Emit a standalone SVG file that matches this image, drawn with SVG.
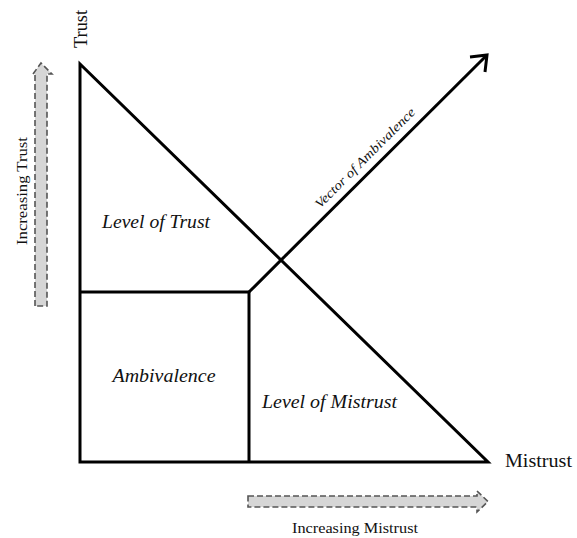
<svg xmlns="http://www.w3.org/2000/svg" width="577" height="538" viewBox="0 0 577 538">
<style>
.ln{fill:none;stroke:#000;stroke-width:3;stroke-linejoin:miter}
.lbl{font-family:"Liberation Serif",serif;font-style:italic;font-size:18px;fill:#111;text-anchor:middle}
.ax{font-family:"Liberation Serif",serif;font-size:18px;fill:#111}
.small{font-family:"Liberation Serif",serif;font-size:14px;fill:#111;text-anchor:middle}
.dash{fill:#d6d6d6;stroke:#555;stroke-width:1.6;stroke-dasharray:6 3}
</style>
<rect width="577" height="538" fill="#fff"/>
<g id="triangle">
<polygon class="ln" points="80,64 80,462 488,462"/>
</g>
<g id="ambivalence-box">
<polyline class="ln" points="80,292 249,292 249,462"/>
</g>
<g id="connectors">
<line class="ln" x1="249" y1="292" x2="486" y2="56"/>
<polyline class="ln" points="470,57 487,55 485,72"/>
</g>
<g id="labels">
<text class="lbl" x="156" y="228" textLength="108" lengthAdjust="spacingAndGlyphs">Level of Trust</text>
<text class="lbl" x="164" y="382" textLength="103" lengthAdjust="spacingAndGlyphs">Ambivalence</text>
<text class="lbl" x="329.5" y="408" textLength="135" lengthAdjust="spacingAndGlyphs">Level of Mistrust</text>
<text class="lbl" style="font-size:13px" transform="translate(368,161) rotate(-45)" textLength="136" lengthAdjust="spacingAndGlyphs">Vector of Ambivalence</text>
<text class="ax" x="505" y="467" textLength="67" lengthAdjust="spacingAndGlyphs">Mistrust</text>
<text class="ax" text-anchor="middle" transform="translate(87,29) rotate(-90)" textLength="38" lengthAdjust="spacingAndGlyphs">Trust</text>
</g>
<g id="increasing-trust">
<path class="dash" d="M35,306 L35,74 L33,74 L41,63 L52,74 L47,74 L47,306 Z"/>
<text class="small" transform="translate(27,191) rotate(-90)" textLength="108" lengthAdjust="spacingAndGlyphs">Increasing Trust</text>
</g>
<g id="increasing-mistrust">
<path class="dash" d="M248,496 L477,496 L477,491 L488,501.5 L477,512 L477,507 L248,507 Z"/>
<text class="small" x="355" y="533" textLength="126" lengthAdjust="spacingAndGlyphs">Increasing Mistrust</text>
</g>
</svg>
